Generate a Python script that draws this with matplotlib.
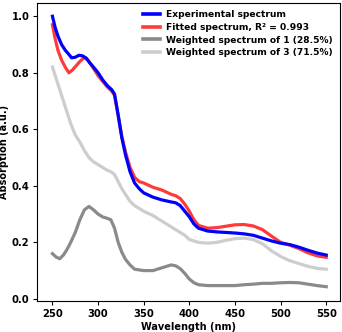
import matplotlib
matplotlib.use("Agg")
import matplotlib.pyplot as plt
import numpy as np

# wavelength grid (nm) and spectra
wl_exp = [250, 253, 256, 260, 264, 268, 271, 275, 279, 283, 287, 291, 295, 300, 305, 310, 315, 318,
          322, 326, 330, 335, 340, 345, 350, 360, 370, 380, 385, 390, 395, 400, 405, 410, 420, 430,
          440, 450, 460, 470, 480, 490, 500, 510, 520, 530, 540, 550]
exp = [1.00, 0.96, 0.93, 0.90, 0.88, 0.865, 0.853, 0.855, 0.862, 0.860, 0.852, 0.835, 0.82, 0.80,
       0.775, 0.755, 0.74, 0.725, 0.65, 0.57, 0.51, 0.45, 0.41, 0.39, 0.375, 0.36, 0.35, 0.343, 0.34,
       0.33, 0.31, 0.29, 0.265, 0.25, 0.24, 0.237, 0.235, 0.233, 0.23, 0.225, 0.215, 0.205, 0.197,
       0.192, 0.183, 0.172, 0.162, 0.155]

wl_fit = [250, 253, 256, 260, 264, 268, 272, 276, 280, 284, 288, 292, 296, 300, 305, 310, 315, 318,
          322, 326, 330, 335, 340, 345, 350, 360, 370, 380, 385, 390, 395, 400, 405, 410, 420, 430,
          440, 450, 460, 470, 480, 490, 500, 510, 520, 530, 540, 550]
fit = [0.97, 0.92, 0.88, 0.845, 0.82, 0.80, 0.81, 0.825, 0.84, 0.852, 0.848, 0.83, 0.81, 0.79,
       0.77, 0.75, 0.735, 0.72, 0.65, 0.575, 0.52, 0.465, 0.43, 0.415, 0.41, 0.395, 0.385, 0.37, 0.365,
       0.355, 0.335, 0.31, 0.28, 0.26, 0.25, 0.252, 0.257, 0.262, 0.263, 0.258, 0.245, 0.222, 0.2,
       0.19, 0.178, 0.163, 0.152, 0.147]

wl_w = [250, 254, 258, 262, 266, 270, 275, 280, 285, 290, 295, 300, 305, 310, 314, 318, 322, 326,
        330, 335, 340, 350, 360, 370, 380, 385, 390, 395, 400, 405, 410, 420, 430, 440, 450, 460,
        470, 480, 490, 500, 510, 520, 530, 540, 550]
w1 = [0.16, 0.148, 0.142, 0.155, 0.175, 0.2, 0.235, 0.28, 0.315, 0.327, 0.315, 0.30, 0.29, 0.285,
      0.28, 0.25, 0.20, 0.165, 0.14, 0.12, 0.105, 0.10, 0.10, 0.11, 0.12, 0.117, 0.107, 0.09, 0.07,
      0.057, 0.05, 0.047, 0.047, 0.047, 0.047, 0.05, 0.052, 0.055, 0.055, 0.057, 0.058, 0.057, 0.052,
      0.047, 0.043]
w3 = [0.82, 0.78, 0.74, 0.70, 0.66, 0.62, 0.58, 0.555, 0.525, 0.50, 0.485, 0.475, 0.465, 0.455,
      0.45, 0.44, 0.415, 0.39, 0.37, 0.345, 0.33, 0.31, 0.295, 0.275, 0.255, 0.245, 0.235, 0.225,
      0.21, 0.205, 0.2, 0.197, 0.2, 0.207, 0.213, 0.215, 0.21, 0.195, 0.17, 0.15, 0.135, 0.125,
      0.115, 0.108, 0.105]

labels = ["Experimental spectrum", "Fitted spectrum, R² = 0.993",
          "Weighted spectrum of 1 (28.5%)", "Weighted spectrum of 3 (71.5%)"]

fig = plt.figure(figsize=(3.42, 3.32), dpi=100)
ax = fig.add_axes([0.108, 0.093, 0.886, 0.898])

ax.plot(wl_exp, exp, color="#0000ff", lw=2.3, label=labels[0], zorder=4)
ax.plot(wl_fit, fit, color="#ff3a3a", lw=2.3, label=labels[1], zorder=3)
ax.plot(wl_w, w1, color="#8a8a8a", lw=2.3, label=labels[2], zorder=2)
ax.plot(wl_w, w3, color="#cdcdcd", lw=2.3, label=labels[3], zorder=1)

ax.set_xlim(233, 565)
ax.set_ylim(-0.008, 1.047)
ax.set_xticks([250, 300, 350, 400, 450, 500, 550])
ax.set_yticks([0.0, 0.2, 0.4, 0.6, 0.8, 1.0])
ax.tick_params(labelsize=7.2, width=0.8, length=3, pad=2.5)
for t in ax.get_xticklabels() + ax.get_yticklabels():
    t.set_fontweight("bold")
ax.set_xlabel("Wavelength (nm)", fontsize=7, fontweight="bold", labelpad=2)
ax.set_ylabel("Absorption (a.u.)", fontsize=7, fontweight="bold", labelpad=2)

leg = ax.legend(loc="upper right", frameon=False, prop={"size": 6.6, "weight": "bold"},
                handlelength=1.9, handletextpad=0.6, labelspacing=0.4, borderaxespad=0.4)
for h in leg.get_lines():
    h.set_linewidth(2.6)

fig.savefig("out.png", dpi=100)
